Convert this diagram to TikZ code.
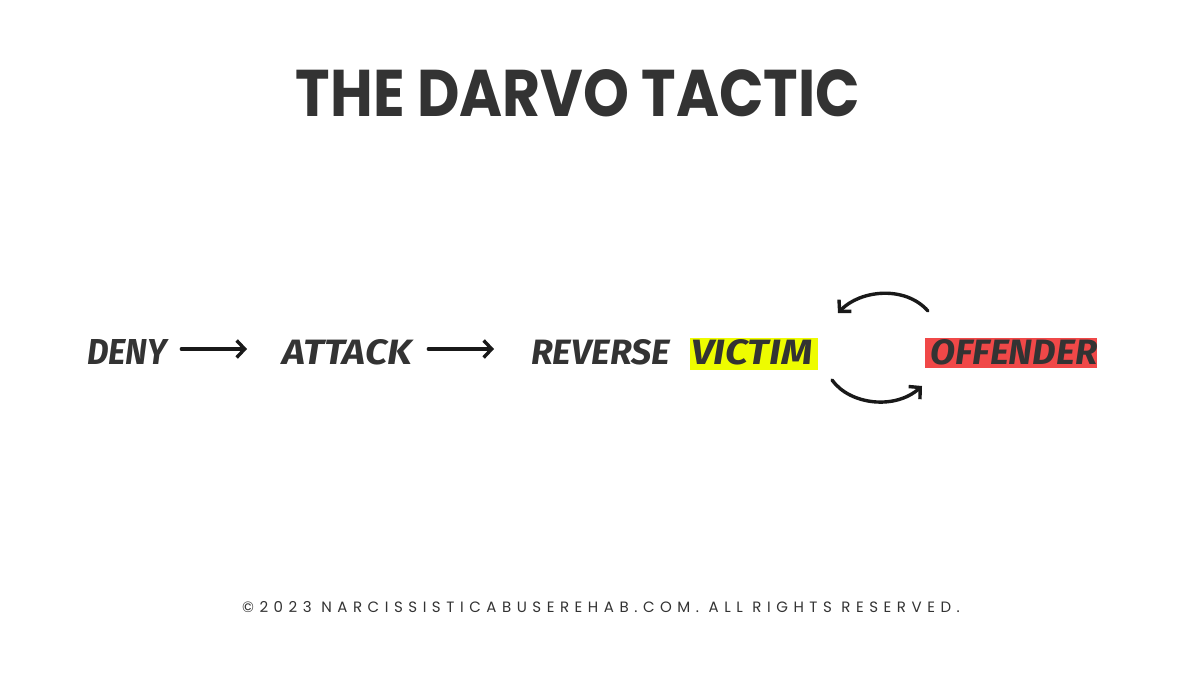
\documentclass[tikz,border=0pt]{standalone}
\usepackage{fontspec}
\setmainfont{Poppins}
\newfontfamily\handfont{Fira Sans}
\newfontfamily\footfont[LetterSpace=37]{Poppins}
\usetikzlibrary{arrows.meta}
\definecolor{ink}{HTML}{333333}
\definecolor{hlyellow}{HTML}{EEFC00}
\definecolor{hlred}{HTML}{F04848}
\newcommand{\handword}[2]{\resizebox{#1}{25pt}{\handfont\bfseries\itshape\fontsize{30}{30}\selectfont #2}}
\tikzset{
  word/.style={text=ink, inner sep=0pt, anchor=west},
  flow/.style={line width=3.4pt, line cap=round, -{Straight Barb[length=8pt,width=17pt,line width=3.4pt]}, black!90},
}
\begin{document}
\begin{tikzpicture}[x=1pt,y=-1pt]
\useasboundingbox (0,0) rectangle (1200,675);
\fill[white] (0,0) rectangle (1200,675);
\node[font=\bfseries\fontsize{66}{66}\selectfont, text=ink, inner sep=0pt] (title) at (578,93) {\scalebox{0.885}[1]{THE DARVO TACTIC}};
% highlights
\fill[hlyellow] (690,338) rectangle (818,370);
\fill[hlred] (925,338) rectangle (1097,368);
\node[word] (deny) at (87,352) {\handword{80pt}{DENY}};
\node[word] (attack) at (282,352) {\handword{130pt}{ATTACK}};
\node[word] (reverse) at (531,352) {\handword{139pt}{REVERSE}};
\node[word] (victim) at (691,352) {\handword{121pt}{VICTIM}};
\node[word] (offender) at (930,352) {\handword{167pt}{OFFENDER}};
\draw[flow] (deny.east) ++(14,-3) coordinate (a1) -- (247,349) coordinate (a1e);
\draw[flow] (attack.east) ++(16,-3) coordinate (a2) -- (494,349) coordinate (a2e);
\coordinate (u1) at (928,311);
\coordinate (u2) at (838,313);
\coordinate (l1) at (832,380);
\coordinate (l2) at (922,386);
\draw[flow] (u1) .. controls (905,285) and (860,290) .. (u2);
\draw[flow] (l1) .. controls (850,405) and (895,410) .. (l2);
\node[font=\footfont\fontsize{15}{15}\selectfont, text=ink, inner sep=0pt] (foot) at (601,607) {©2023 NARCISSISTICABUSEREHAB.COM. ALL RIGHTS RESERVED.};
\end{tikzpicture}
\end{document}
